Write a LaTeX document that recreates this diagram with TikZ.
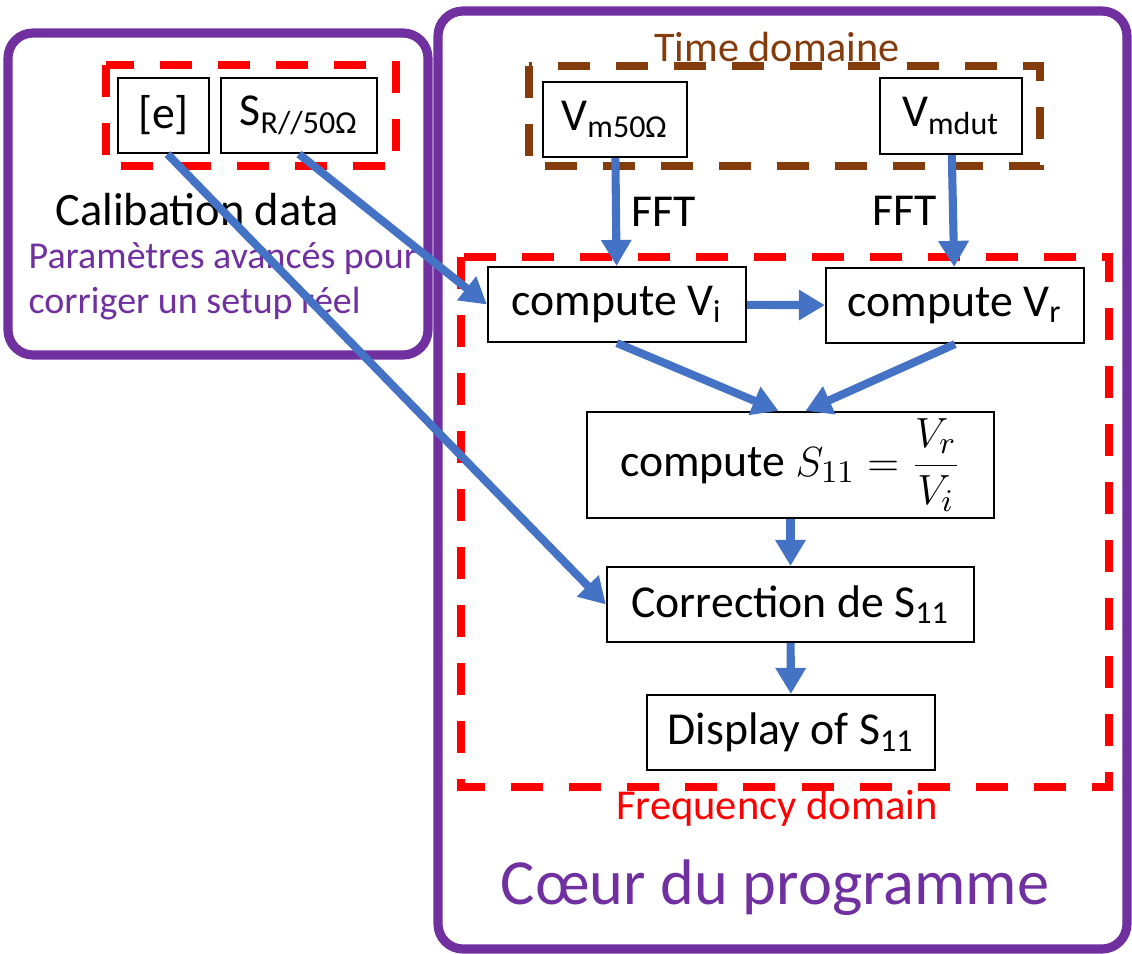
\documentclass[tikz,border=0pt]{standalone}
\usepackage{fontspec}
\setmainfont{Carlito}
\usetikzlibrary{arrows.meta}
\definecolor{purp}{HTML}{7030A0}
\definecolor{brun}{HTML}{843C0C}
\definecolor{flow}{HTML}{4472C4}

\begin{document}
\begin{tikzpicture}[x=0.01cm,y=-0.01cm,
	box/.style={draw,line width=0.6pt,inner sep=0pt,font=\fontsize{13}{15}\selectfont},
	arr/.style={line width=2.3pt,draw=flow,-{Triangle[length=0.26cm,width=0.29cm,fill=flow]}},
	dashframe/.style={line width=2.5pt,dash pattern=on 0.32cm off 0.26cm},
	zone/.style={line width=2.6pt,draw=purp,rounded corners=0.25cm}]
		\useasboundingbox (0,0) rectangle (1132,954);
		
		\draw[zone] (8,33) rectangle (428,355);
		\draw[zone] (438,11) rectangle (1127,949);
		\draw[dashframe,red] (106,65) rectangle (396,166);
		\draw[dashframe,brun] (529,66) rectangle (1040,166);
		\draw[dashframe,red] (461,257) rectangle (1109,787);
		
		\node[box,minimum width=0.91cm,minimum height=0.75cm] (e) at (163.5,115.5) {[e]};
		\node[box,minimum width=1.56cm,minimum height=0.75cm] (sr) at (299,115.5) {S\textsubscript{R//50Ω}};
		\node[box,minimum width=1.44cm,minimum height=0.75cm] (vm) at (615,119.5) {V\textsubscript{m50Ω}};
		\node[box,minimum width=1.42cm,minimum height=0.76cm] (vdut) at (951,116) {V\textsubscript{mdut}};
		\node[box,minimum width=2.58cm,minimum height=0.75cm] (vi) at (617,304.5) {compute V\textsubscript{i}};
		\node[box,minimum width=2.58cm,minimum height=0.75cm] (vr) at (955,305.5) {compute V\textsubscript{r}};
		\node[box,minimum width=4.07cm,minimum height=1.06cm] (s11) at (790.5,465) {compute $\displaystyle S_{11}=\frac{V_r}{V_i}$};
		\node[box,minimum width=3.67cm,minimum height=0.75cm] (corr) at (790.5,604.5) {Correction de S\textsubscript{11}};
		\node[box,minimum width=2.88cm,minimum height=0.75cm] (disp) at (791,732.5) {Display of S\textsubscript{11}};
		
		\node[text=brun,font=\fontsize{12}{14}\selectfont] (time) at (777,47) {Time domaine};
		\node[font=\fontsize{13.2}{15}\selectfont] (calib) at (197,210) {Calibation data};
		\node[text=purp,anchor=west,align=left,inner sep=0pt,font=\fontsize{10.8}{12.8}\selectfont] (param) at (28,281) {Paramètres avancés pour\\corriger un setup réel};
		\node[text=red,font=\fontsize{12.1}{14}\selectfont] (freq) at (777,808) {Frequency domain};
		\node[text=purp,font=\fontsize{18.3}{21}\selectfont] (coeur) at (775,888) {Cœur du programme};
		
		\draw[arr] (vm) -- node[right,font=\fontsize{13}{15}\selectfont] {FFT} (vi);
		\draw[arr] (vdut) -- node[left,font=\fontsize{13}{15}\selectfont] {FFT} (vr);
		\draw[arr] (vi) -- (vr);
		\draw[arr] (vi.south) -- ([xshift=-0.12cm]s11.north);
		\draw[arr] (vr.south) -- ([xshift=0.15cm]s11.north);
		\draw[arr] (s11) -- (corr);
		\draw[arr] (corr) -- (disp);
		\draw[arr] ([xshift=0.04cm]e.south) -- (corr.west);
		\draw[arr] (sr.south) -- (vi.west);
\end{tikzpicture}
\end{document}
